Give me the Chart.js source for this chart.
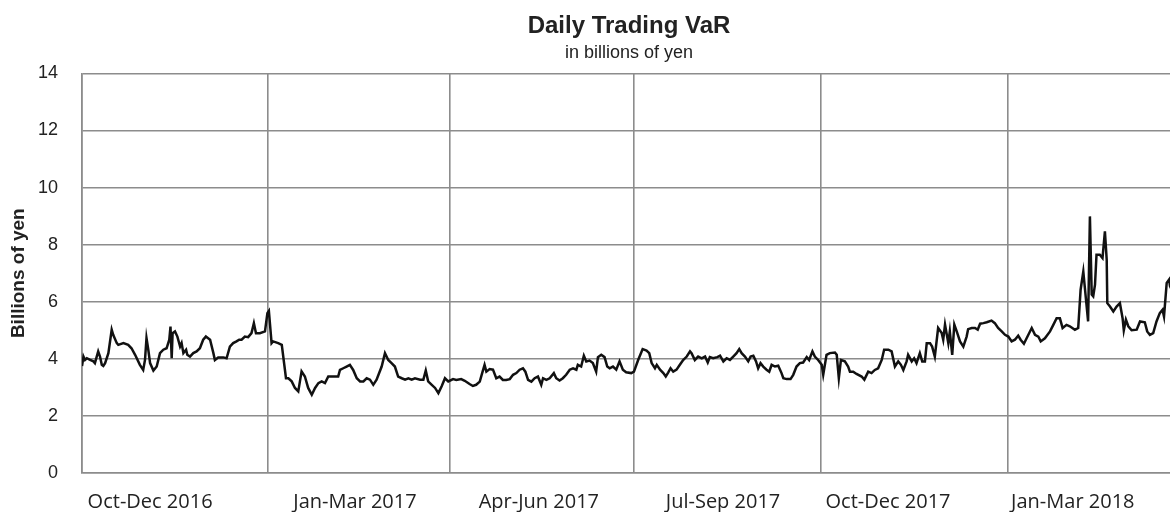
<!DOCTYPE html>
<html>
<head>
<meta charset="utf-8">
<script src="https://cdn.jsdelivr.net/npm/chart.js@4.4.1/dist/chart.umd.min.js"></script>
<style>
  html, body { margin: 0; padding: 0; background: #fff; overflow: hidden; }
  #wrap { position: relative; width: 1180px; height: 512px; }
</style>
</head>
<body>
<div id="wrap"><canvas id="c"></canvas></div>
<script>
// Trading-day index (x) and VaR in billions of yen (y)
const days = [
  0,0.5,1.0,1.6,2.7,3.8,4.3,5.4,6.0,6.6,7.1,7.7,8.8,9.9,10.4,11.6,12.1,13.8,15.4,16.5,17.7,19.3,20.4,21.0,21.5,22.1,22.7,23.8,24.9,26.0,27.1,28.2,29.1,29.5,29.9,30.2,31.0,31.8,32.7,33.2,33.8,34.7,35.1,36.0,37.1,38.2,39.3,40.4,41.3,42.7,43.8,44.3,45.4,47.1,48.2,49.3,50.4,51.5,52.4,53.2,54.3,55.4,56.5,57.3,58.0,59.3,61.0,61.8,62.3,
  63.2,63.7,65.4,66.6,68.0,68.8,69.9,71.0,72.1,73.2,74.3,75.4,76.6,77.7,78.8,79.9,81.0,82.1,83.2,85.4,86.0,87.1,88.2,89.3,90.4,91.6,92.7,93.8,94.9,96.0,97.1,98.2,99.9,101.0,102.1,103.2,104.3,105.4,106.6,107.7,108.8,109.9,111.0,112.7,113.8,114.6,115.4,116.6,117.7,118.8,119.9,121.0,122.1,
  123.7,124.8,126.4,127.6,129.2,130.3,131.4,132.6,133.4,134.2,134.8,135.9,137.0,138.1,139.2,140.3,141.4,142.6,143.7,144.8,145.9,147.0,147.8,148.7,149.8,150.9,152.0,153.1,153.7,154.8,155.9,157.3,158.1,159.2,160.3,161.4,162.6,163.7,164.8,165.3,166.4,167.3,168.1,169.2,170.3,171.4,172.0,173.1,174.2,175.1,175.9,177.0,178.1,179.2,180.3,181.4,183.1,184.0,
  185.4,186.9,188.2,189.1,189.9,191.0,191.6,192.7,193.8,194.6,195.4,196.2,197.1,198.2,199.3,200.4,201.6,202.7,203.2,204.3,205.4,206.6,207.7,208.6,209.3,210.4,211.8,212.7,213.8,214.9,216.0,217.1,218.2,219.1,219.9,221.0,222.1,222.9,223.8,224.7,225.4,226.2,227.1,228.2,229.1,229.9,231.0,232.1,233.2,233.8,234.9,236.2,237.1,238.2,239.3,240.4,241.6,242.4,243.5,244.3,245.4,246.6,247.1,
  248.2,249.3,251.0,251.6,252.3,253.0,254.3,255.4,256.0,257.1,258.2,259.9,260.8,262.1,263.2,264.3,265.4,266.6,267.4,268.8,269.9,271.0,272.1,273.0,273.8,274.9,275.4,276.6,277.4,278.2,279.3,280.1,281.0,281.6,282.7,283.4,284.3,285.4,286.6,287.1,287.7,288.8,289.3,290.1,290.8,291.6,292.7,293.8,294.9,295.4,296.6,297.7,298.6,299.4,300.5,301.6,303.2,304.3,305.4,306.6,307.7,308.8,
  309.9,311.0,312.1,312.9,314.0,314.9,316.6,317.7,318.8,319.6,321.0,322.7,323.8,324.9,326.0,326.9,328.2,329.3,331.0,332.1,332.9,333.8,334.7,335.4,336.0,336.6,337.1,337.7,338.2,339.3,340.2,341.0,341.6,341.8,342.7,343.8,344.9,346.0,346.9,347.3,348.0,348.8,349.9,351.6,352.7,354.3,355.1,356.0,357.1,358.2,359.3,360.2,360.7,361.6,362.4,362.7,363.6
];
const varValues = [
  3.75,4.08,3.96,4.02,3.96,3.91,3.85,4.26,4.08,3.79,3.75,3.85,4.20,5.02,4.84,4.55,4.49,4.55,4.49,4.37,4.14,3.79,3.61,3.96,4.73,4.32,3.85,3.59,3.73,4.20,4.32,4.37,4.67,5.13,4.02,4.90,4.96,4.78,4.43,4.55,4.20,4.32,4.14,4.08,4.20,4.26,4.37,4.67,4.78,4.67,4.20,3.96,4.05,4.05,4.02,4.43,4.55,4.61,4.67,4.67,4.78,4.76,4.90,5.25,4.90,4.90,4.96,5.60,5.68,
  4.55,4.61,4.55,4.49,3.32,3.32,3.21,2.98,2.86,3.56,3.38,2.98,2.74,2.98,3.15,3.21,3.15,3.38,3.38,3.38,3.61,3.67,3.73,3.79,3.61,3.32,3.21,3.21,3.32,3.27,3.09,3.27,3.73,4.20,3.96,3.85,3.73,3.38,3.32,3.27,3.32,3.27,3.32,3.27,3.27,3.59,3.21,3.09,2.98,2.80,3.04,3.32,3.21,
  3.29,3.26,3.29,3.23,3.12,3.05,3.09,3.20,3.50,3.79,3.55,3.64,3.62,3.32,3.38,3.26,3.26,3.29,3.44,3.50,3.62,3.67,3.55,3.26,3.20,3.32,3.38,3.09,3.32,3.26,3.32,3.50,3.32,3.24,3.32,3.44,3.62,3.67,3.62,3.79,3.73,4.11,3.91,3.94,3.85,3.55,4.06,4.14,4.06,3.73,3.67,3.73,3.62,3.91,3.62,3.53,3.50,3.55,
  3.96,4.34,4.29,4.20,3.85,3.67,3.79,3.62,3.50,3.38,3.52,3.67,3.55,3.62,3.79,3.96,4.08,4.26,4.20,3.96,4.08,4.02,4.08,3.87,4.06,4.02,4.06,4.11,3.91,4.02,3.96,4.08,4.20,4.34,4.20,4.08,3.91,4.08,4.11,3.91,3.67,3.85,3.73,3.62,3.55,3.79,3.73,3.76,3.50,3.32,3.29,3.29,3.44,3.73,3.85,3.87,4.06,3.96,4.26,4.08,3.96,3.79,3.44,
  4.14,4.20,4.22,4.14,3.32,3.96,3.91,3.73,3.55,3.55,3.47,3.38,3.27,3.55,3.50,3.61,3.67,3.96,4.32,4.32,4.26,3.73,3.91,3.79,3.61,3.91,4.14,3.91,4.02,3.85,4.20,3.91,3.91,4.55,4.55,4.43,4.08,5.08,4.90,4.67,5.20,4.55,4.96,4.14,5.20,4.96,4.61,4.43,4.78,5.04,5.08,5.08,5.02,5.23,5.25,5.28,5.34,5.25,5.08,4.96,4.84,4.78,
  4.61,4.67,4.81,4.67,4.53,4.72,5.08,4.84,4.78,4.61,4.72,4.96,5.19,5.42,5.42,5.08,5.19,5.14,5.02,5.08,6.42,7.06,6.07,5.31,8.99,6.25,6.19,6.60,7.65,7.65,7.53,8.47,7.47,5.95,5.83,5.66,5.83,5.95,5.42,5.00,5.37,5.14,5.00,5.02,5.31,5.28,4.96,4.84,4.90,5.31,5.60,5.72,5.48,6.66,6.78,6.55,6.35
];
// Quarter boundaries (trading-day index) and label positions
const quarterStarts = [0, 62, 122.7, 184, 246.3, 308.7];
const quarterLabelPos = [22.7, 91, 152.3, 213.7, 268.7, 330.3];
const quarterLabels = ['Oct-Dec 2016', 'Jan-Mar 2017', 'Apr-Jun 2017', 'Jul-Sep 2017', 'Oct-Dec 2017', 'Jan-Mar 2018'];
const yTicks = [0, 2, 4, 6, 8, 10, 12, 14];

const points = days.map((d, i) => ({ x: d, y: varValues[i] }));
const gridGray = '#8c8c8c';

new Chart(document.getElementById('c'), {
  type: 'line',
  data: {
    datasets: [{
      data: points,
      borderColor: '#111',
      borderWidth: 2.5,
      pointRadius: 0,
      tension: 0,
      fill: false
    }]
  },
  options: {
    responsive: true,
    maintainAspectRatio: false,
    animation: false,
    layout: { padding: { left: 0, right: 4, top: 0, bottom: 0 } },
    plugins: {
      legend: { display: false },
      tooltip: { enabled: false },
      title: {
        display: true,
        fullSize: false,
        text: 'Daily Trading VaR',
        color: '#222',
        font: { family: 'Liberation Sans, Arial, sans-serif', size: 24, weight: 'bold' },
        padding: { top: 12, bottom: 0 }
      },
      subtitle: {
        display: true,
        fullSize: false,
        text: 'in billions of yen',
        color: '#222',
        font: { family: 'Liberation Sans, Arial, sans-serif', size: 18 },
        padding: { top: 1, bottom: 10 }
      }
    },
    scales: {
      x: {
        type: 'linear',
        min: 0,
        max: 364.7,
        afterBuildTicks: (scale) => {
          const vals = quarterStarts.concat(quarterLabelPos).sort((a, b) => a - b);
          scale.ticks = vals.map(v => ({ value: v }));
        },
        afterFit: (scale) => { scale.height = 39; },
        grid: {
          drawTicks: false,
          lineWidth: 1.6,
          color: (ctx) => (ctx.tick && quarterStarts.includes(ctx.tick.value)) ? gridGray : 'rgba(0,0,0,0)'
        },
        border: { display: true, color: gridGray, width: 1.6 },
        ticks: {
          autoSkip: false,
          maxRotation: 0,
          padding: 17,
          color: '#222',
          font: { family: 'Open Sans, sans-serif', size: 20 },
          callback: (value) => {
            const i = quarterLabelPos.indexOf(value);
            return i >= 0 ? quarterLabels[i] : '';
          }
        }
      },
      y: {
        min: 0,
        max: 14,
        afterBuildTicks: (scale) => { scale.ticks = yTicks.map(v => ({ value: v })); },
        afterFit: (scale) => { scale.width = 82; },
        grid: { drawTicks: false, color: gridGray, lineWidth: 1.6 },
        border: { display: true, color: gridGray, width: 1.6 },
        ticks: {
          padding: 24,
          color: '#222',
          font: { family: 'Liberation Sans, Arial, sans-serif', size: 18 }
        },
        title: {
          display: true,
          text: 'Billions of yen',
          color: '#222',
          font: { family: 'Liberation Sans, Arial, sans-serif', size: 19, weight: 'bold' },
          padding: { top: 7, bottom: 0 }
        }
      }
    }
  }
});
</script>
</body>
</html>
